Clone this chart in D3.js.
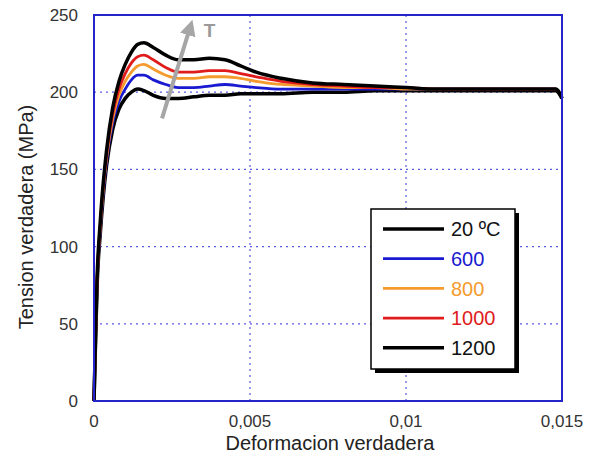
<!DOCTYPE html>
<html>
<head>
<meta charset="utf-8">
<script src="https://cdn.jsdelivr.net/npm/d3@7"></script>
<style>
  body { margin: 0; background: #fff; }
  svg { font-family: Arial, "Liberation Sans", sans-serif; }
  .grid line { stroke: #5a5ae0; stroke-width: 1.2; stroke-dasharray: 2,4; }
  .tick-label { fill: #333; font-size: 17px; }
</style>
</head>
<body>
<svg id="chart" width="594" height="463"></svg>
<script>
// temperatures and colours of the legend
const series = ['20 ºC', '600', '800', '1000', '1200'];
const colors = ['#000000', '#1a1ad0', '#f59a2c', '#e01b1b', '#000000'];
const widths = [3.5, 2.8, 2.8, 2.8, 3.5];

// strain values shared by all curves
const strain = [0, 0.00005, 0.0001, 0.0002, 0.0003, 0.0004, 0.0006, 0.0008, 0.001,
  0.0012, 0.0014, 0.0016, 0.0019, 0.0023, 0.0027, 0.0032, 0.0037, 0.0042, 0.0047,
  0.0052, 0.006, 0.007, 0.008, 0.009, 0.01, 0.011, 0.012, 0.013, 0.014, 0.0148, 0.015];

// stress (MPa) per temperature
const stress20 = [0, 39, 75, 108, 133, 152, 176, 189, 196, 200, 202, 201, 198, 196, 196,
  197, 198, 198, 199, 199, 199, 200, 200, 201, 201, 201, 201, 201, 201, 201, 196];
const stress600 = [0, 40, 76, 110, 136, 155, 180, 194, 202, 208, 211, 211, 208, 205, 203,
  203, 204, 205, 204, 203, 202, 202, 202, 202, 202, 202, 202, 202, 202, 202, 197];
const stress800 = [0, 40, 77, 112, 138, 157, 183, 198, 207, 213, 217, 218, 215, 211, 209,
  209, 210, 210, 209, 207, 205, 204, 203, 203, 202, 202, 202, 202, 202, 202, 197];
const stress1000 = [0, 41, 78, 114, 140, 159, 186, 202, 212, 219, 223, 224, 221, 216, 213,
  213, 214, 214, 212, 210, 207, 205, 204, 203, 203, 202, 202, 202, 202, 202, 197];
const stress1200 = [0, 42, 80, 116, 142, 162, 190, 207, 218, 226, 231, 232, 229, 224, 221,
  221, 222, 221, 217, 213, 209, 206, 205, 204, 203, 202, 202, 202, 202, 202, 196];
const stresses = [stress20, stress600, stress800, stress1000, stress1200];

// axis ticks
const xTicks = [0, 0.005, 0.01, 0.015];
const xTickLabels = ['0', '0,005', '0,01', '0,015'];
const yTicks = [0, 50, 100, 150, 200, 250];

// temperature arrow (strain, stress)
const arrowFrom = [0.00218, 183];
const arrowTo = [0.00308, 242];
const arrowLabel = [0.00352, 236];

const svg = d3.select('#chart');
const margin = {top: 15, right: 32, bottom: 62, left: 94};
const width = 594, height = 463;

const x = d3.scaleLinear().domain([0, 0.015]).range([margin.left, width - margin.right]);
const y = d3.scaleLinear().domain([0, 250]).range([height - margin.bottom, margin.top]);

// grid
const grid = svg.append('g').attr('class', 'grid');
grid.selectAll('.gx').data(xTicks.slice(1, -1)).enter().append('line')
  .attr('x1', d => x(d)).attr('x2', d => x(d))
  .attr('y1', y(0)).attr('y2', y(250));
grid.selectAll('.gy').data(yTicks.slice(1, -1)).enter().append('line')
  .attr('x1', x(0)).attr('x2', x(0.015))
  .attr('y1', d => y(d)).attr('y2', d => y(d));

// curves
const line = d3.line()
  .x(d => x(d[0]))
  .y(d => y(d[1]))
  .curve(d3.curveMonotoneX);

const order = [0, 1, 2, 3, 4];
svg.append('g').selectAll('path').data(order).enter().append('path')
  .attr('d', i => line(strain.map((s, k) => [s, stresses[i][k]])))
  .attr('fill', 'none')
  .attr('stroke', i => colors[i])
  .attr('stroke-width', i => widths[i])
  .attr('stroke-linejoin', 'round');

// frame
svg.append('rect')
  .attr('x', x(0)).attr('y', y(250))
  .attr('width', x(0.015) - x(0)).attr('height', y(0) - y(250))
  .attr('fill', 'none').attr('stroke', '#2424c8').attr('stroke-width', 2);

// axes labels
svg.append('g').selectAll('text').data(yTicks).enter().append('text')
  .attr('class', 'tick-label')
  .attr('x', margin.left - 16)
  .attr('y', d => y(d))
  .attr('dy', '0.35em')
  .attr('text-anchor', 'end')
  .text(d => d);
svg.append('g').selectAll('text').data(xTicks).enter().append('text')
  .attr('class', 'tick-label')
  .attr('x', d => x(d))
  .attr('y', y(0) + 26)
  .attr('text-anchor', 'middle')
  .text((d, i) => xTickLabels[i]);

svg.append('text')
  .attr('x', (x(0) + x(0.015)) / 2 + 2)
  .attr('y', 450)
  .attr('text-anchor', 'middle')
  .attr('font-size', 20)
  .attr('fill', '#222')
  .text('Deformacion verdadera');
svg.append('text')
  .attr('transform', 'translate(33, 217) rotate(-90)')
  .attr('text-anchor', 'middle')
  .attr('font-size', 20)
  .attr('fill', '#222')
  .text('Tension verdadera (MPa)');

// arrow
svg.append('defs').append('marker')
  .attr('id', 'head')
  .attr('viewBox', '0 0 10 10')
  .attr('refX', 5).attr('refY', 5)
  .attr('markerWidth', 4).attr('markerHeight', 4)
  .attr('orient', 'auto')
  .append('path').attr('d', 'M0,0 L10,5 L0,10 Z').attr('fill', '#a6a6a6');
svg.append('line')
  .attr('x1', x(arrowFrom[0])).attr('y1', y(arrowFrom[1]))
  .attr('x2', x(arrowTo[0])).attr('y2', y(arrowTo[1]))
  .attr('stroke', '#a6a6a6').attr('stroke-width', 4)
  .attr('marker-end', 'url(#head)');
svg.append('text')
  .attr('x', x(arrowLabel[0])).attr('y', y(arrowLabel[1]))
  .attr('font-size', 19).attr('font-weight', 'bold')
  .attr('fill', '#9a9a9a')
  .text('T');

// legend
const lg = {x: 371, y: 209, w: 144, h: 160, row: 29.7};
svg.append('rect')
  .attr('x', lg.x + 4).attr('y', lg.y + 4)
  .attr('width', lg.w).attr('height', lg.h).attr('fill', '#000');
svg.append('rect')
  .attr('x', lg.x).attr('y', lg.y)
  .attr('width', lg.w).attr('height', lg.h)
  .attr('fill', '#fff').attr('stroke', '#000').attr('stroke-width', 1.5);
const items = svg.append('g').selectAll('g').data(series).enter().append('g')
  .attr('transform', (d, i) => 'translate(0,' + (lg.y + 20 + i * lg.row) + ')');
items.append('line')
  .attr('x1', lg.x + 12).attr('x2', lg.x + 73)
  .attr('stroke', (d, i) => colors[i])
  .attr('stroke-width', (d, i) => widths[i]);
items.append('text')
  .attr('x', lg.x + 80).attr('dy', '0.36em')
  .attr('font-size', 20)
  .attr('fill', (d, i) => colors[i] === '#000000' ? '#111' : colors[i])
  .text(d => d);
</script>
</body>
</html>
